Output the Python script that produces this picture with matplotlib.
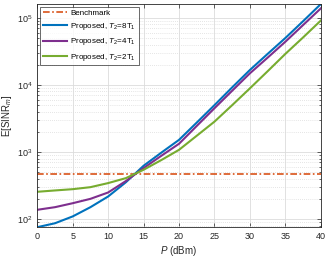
import matplotlib
matplotlib.use("Agg")
import matplotlib.pyplot as plt
import numpy as np

plt.rcParams['font.family'] = ['Liberation Sans', 'DejaVu Sans']
plt.rcParams['mathtext.fontset'] = 'custom'
plt.rcParams['mathtext.rm'] = 'Liberation Sans'
plt.rcParams['mathtext.it'] = 'Liberation Sans:italic'

P_dBm = [0, 2.5, 5, 7.5, 10, 12.5, 15, 17.5, 20, 22.5, 25, 27.5, 30, 32.5, 35, 37.5, 40]
benchmark = [478] * len(P_dBm)
prop_8T1 = [76, 87, 110, 151, 218, 355, 625, 980, 1520, 2750, 5000, 9200, 16700, 29000, 50000, 89000, 160000]
prop_4T1 = [138, 151, 173, 201, 250, 370, 577, 880, 1330, 2450, 4500, 8200, 14900, 25500, 44000, 78000, 138000]
prop_2T1 = [256, 268, 280, 300, 345, 409, 545, 760, 1080, 1750, 2840, 5000, 8900, 16000, 29000, 51000, 91000]

labels = ['Benchmark', r'Proposed, $T_2$=8T$_1$', r'Proposed, $T_2$=4T$_1$', r'Proposed, $T_2$=2T$_1$']
colors = ['#D95319', '#0072BD', '#7E2F8E', '#77AC30']

fig = plt.figure(figsize=(3.27, 2.57), dpi=100)
ax = fig.add_axes([0.114, 0.116, 0.867, 0.868])

ax.plot(P_dBm, benchmark, color=colors[0], lw=1.2, ls=(0, (4, 1.5, 1, 1.5)), label=labels[0])
ax.plot(P_dBm, prop_8T1, color=colors[1], lw=1.5, label=labels[1])
ax.plot(P_dBm, prop_4T1, color=colors[2], lw=1.5, label=labels[2])
ax.plot(P_dBm, prop_2T1, color=colors[3], lw=1.5, label=labels[3])

ax.set_yscale('log')
ax.set_xlim(0, 40)
allv = prop_8T1 + prop_4T1 + prop_2T1 + benchmark
ax.set_ylim(min(allv), max(allv))
ax.set_xticks(np.arange(0, 41, 5))

ax.grid(True, which='major', color='#dcdcdc', lw=0.6, ls='-')
ax.grid(True, which='minor', axis='y', color='#dcdcdc', lw=0.6, ls=(0, (1, 1.5)))
ax.tick_params(which='both', direction='in', top=True, right=True, labelsize=6.5,
               colors='#262626', width=0.5)
ax.tick_params(which='major', length=3)
ax.tick_params(which='minor', length=1.5)
for s in ax.spines.values():
    s.set_color('#262626')
    s.set_linewidth(0.6)

ax.set_xlabel(r'$P$ (dBm)', fontsize=7, color='#262626', labelpad=2)
ax.set_ylabel(r'E[SINR$_m$]', fontsize=7, color='#262626', labelpad=2)

leg = ax.legend(loc='upper left', fontsize=5.8, frameon=True, fancybox=False,
                edgecolor='#262626', handlelength=3.1, handletextpad=0.3,
                borderpad=0.35, labelspacing=0.52, borderaxespad=0.3)
leg.get_frame().set_linewidth(0.6)

fig.savefig('out.png', dpi=100)
